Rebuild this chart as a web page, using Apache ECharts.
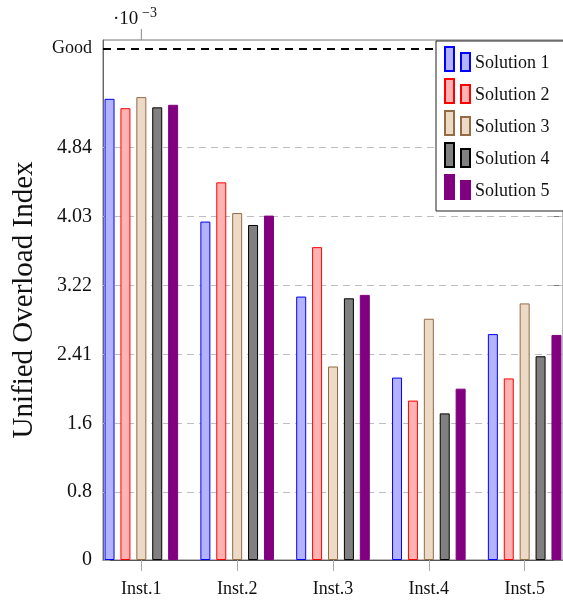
<!DOCTYPE html>
<html>
<head>
<meta charset="utf-8">
<script src="https://cdn.jsdelivr.net/npm/echarts@6/dist/echarts.min.js"></script>
<style>
  html, body { margin: 0; padding: 0; background: #fff; }
  #chart { width: 563px; height: 605px; }
</style>
</head>
<body>
<div id="chart"></div>
<script>
// Unified overload index (x 10^-3) per instance and solution
const categories = ['Inst.1', 'Inst.2', 'Inst.3', 'Inst.4', 'Inst.5'];
const solution1 = [5.41, 3.97, 3.09, 2.14, 2.65];
const solution2 = [5.30, 4.43, 3.67, 1.87, 2.13];
const solution3 = [5.43, 4.07, 2.27, 2.83, 3.01];
const solution4 = [5.31, 3.93, 3.07, 1.72, 2.39];
const solution5 = [5.34, 4.04, 3.11, 2.01, 2.64];
const seriesNames = ['Solution 1', 'Solution 2', 'Solution 3', 'Solution 4', 'Solution 5'];
const yTicks = [0, 0.8, 1.6, 2.41, 3.22, 4.03, 4.84];
const goodLevel = 6.0;
const goodLabel = 'Good';

const FONT = '"Liberation Serif", "DejaVu Serif", serif';
const styles = [
  { fill: '#b3b3ff', stroke: '#0000ff' },
  { fill: '#ffb3b3', stroke: '#ff0000' },
  { fill: '#ecd9c6', stroke: '#936b45' },
  { fill: '#808080', stroke: '#000000' },
  { fill: '#800080', stroke: '#800080' }
];
const allValues = [solution1, solution2, solution3, solution4, solution5];
const xIndex = categories.map((c, i) => i);
const yTickAll = yTicks.concat([goodLevel]);

const chart = echarts.init(document.getElementById('chart'), null, { renderer: 'canvas' });

const barSeries = allValues.map((vals, s) => ({
  name: seriesNames[s],
  type: 'bar',
  z: 10,
  barWidth: 10,
  barGap: '59%',
  data: vals.map((v, i) => [i, v]),
  itemStyle: { color: styles[s].fill, borderColor: styles[s].stroke, borderWidth: 1 },
  emphasis: { disabled: true },
  animation: false
}));

// reference lines: dashed grid lines and the "Good" level
barSeries[0].markLine = {
  silent: true,
  z: 1,
  symbol: 'none',
  animation: false,
  label: { show: false },
  data: yTicks.filter(v => v > 0).map(v => ({
    yAxis: v,
    lineStyle: { color: '#bdbdbd', width: 1, type: [7, 5] }
  })).concat([{
    yAxis: goodLevel,
    lineStyle: { color: '#000', width: 2, type: [8, 6] }
  }])
};

const option = {
  animation: false,
  backgroundColor: '#fff',
  grid: {
    left: 103, top: 40, width: 462.5, height: 520,
    show: true, borderColor: '#777', borderWidth: 1, backgroundColor: 'transparent'
  },
  legend: {
    orient: 'vertical',
    left: 436, top: 41,
    padding: [5, 30, 3, 8],
    itemWidth: 25, itemHeight: 32, itemGap: -2,
    backgroundColor: '#fff',
    borderColor: '#222', borderWidth: 1,
    selectedMode: false,
    // two bars sitting on the text baseline; the trailing move point leaves room below them
    icon: 'path://M0,0h9v24h-9zM16,6h9v18h-9zM0,32',
    textStyle: { fontFamily: FONT, fontSize: 18, color: '#111' },
    data: seriesNames
  },
  xAxis: {
    type: 'value',
    min: -0.4, max: 4.4,
    splitLine: { show: false },
    axisLine: { show: true, onZero: false, lineStyle: { color: '#555', width: 1 } },
    axisTick: { show: true, inside: false, length: 11, customValues: xIndex, lineStyle: { color: '#aaa' } },
    axisLabel: {
      customValues: xIndex,
      margin: 20,
      fontFamily: FONT, fontSize: 18, color: '#111',
      formatter: v => categories[Math.round(v)]
    }
  },
  yAxis: [{
    type: 'value',
    min: 0, max: 6.1,
    name: 'Unified Overload Index',
    nameLocation: 'middle',
    nameGap: 64,
    nameTextStyle: { fontFamily: FONT, fontSize: 29, color: '#111' },
    splitLine: { show: false },
    axisLine: { show: true, onZero: false, lineStyle: { color: '#666', width: 1 } },
    axisTick: { show: true, inside: true, length: 7, customValues: yTickAll, lineStyle: { color: '#999' } },
    axisLabel: {
      customValues: yTickAll,
      margin: 11,
      fontFamily: FONT, fontSize: 20, color: '#111',
      formatter: v => (Math.abs(v - goodLevel) < 1e-9 ? '{g|' + goodLabel + '}' : String(v)),
      rich: { g: { fontFamily: FONT, fontSize: 18, color: '#111' } }
    }
  }, {
    type: 'value',
    position: 'right',
    min: 0, max: 6.1,
    splitLine: { show: false },
    axisLine: { show: false, onZero: false },
    axisTick: { show: true, inside: true, length: 9, customValues: yTicks, lineStyle: { color: '#777' } },
    axisLabel: { show: false }
  }],
  series: barSeries
};

chart.setOption(option);

// scale exponent above the plot and its short connector
const px0 = chart.convertToPixel({ xAxisIndex: 0 }, 0);
chart.setOption({
  graphic: [
    {
      type: 'text', z: 20,
      style: { x: 113, y: 19, text: '\u00b710', font: '19px ' + FONT, fill: '#111', textVerticalAlign: 'middle' }
    },
    {
      type: 'text', z: 20,
      style: { x: 142, y: 13, text: '\u22123', font: '14px ' + FONT, fill: '#111', textVerticalAlign: 'middle' }
    },
    {
      type: 'line', z: 20,
      shape: { x1: px0, y1: 29, x2: px0, y2: 40 },
      style: { stroke: '#888', lineWidth: 1 }
    }
  ]
});
</script>
</body>
</html>
